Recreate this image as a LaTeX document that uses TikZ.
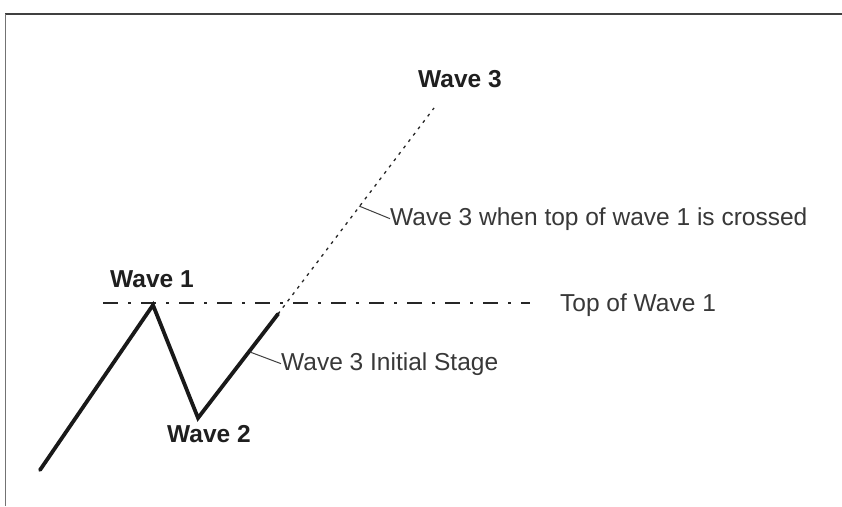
\documentclass[tikz,border=0pt]{standalone}
\usepackage{fontspec}
\setmainfont{Liberation Sans}
\begin{document}
\begin{tikzpicture}[x=1pt,y=-1pt,
  lbl/.style={inner sep=0pt,anchor=base west,font=\fontsize{24.5}{26}\selectfont,text=black!78},
  blbl/.style={inner sep=0pt,anchor=base west,font=\fontsize{24.5}{26}\selectfont\bfseries,text=black!88},
  wave/.style={line width=3.8pt,draw=black!90,line cap=round,line join=miter},
  topline/.style={line width=1.4pt,draw=black!85,dash pattern=on 15pt off 10pt on 3pt off 10pt},
  dotline/.style={line width=1.3pt,draw=black!85,dash pattern=on 3pt off 5pt},
  leader/.style={line width=1pt,draw=black!75}]
\useasboundingbox (0,0) rectangle (842,506);
\fill[white] (0,0) rectangle (842,506);
% frame
\draw[line width=2.6pt,draw=black!75] (5,14) -- (842,14);
\draw[line width=1.4pt,draw=black!55] (5.5,14) -- (5.5,506);
% points
\coordinate (s) at (40,470);
\coordinate (p1) at (153,305);
\coordinate (p2) at (198,418);
\coordinate (p3) at (278,314);
\coordinate (p4) at (434,108);
\coordinate (tl) at (103,303);
\coordinate (tr) at (530,303);
\coordinate (c1) at (359,206);
\coordinate (c2) at (250,352);
% lines
\draw[topline] (tl) -- (tr);
\draw[dotline] (p3) -- (p4);
\draw[wave] (s) -- (p1) -- (p2) -- (p3);
% labels
\node[blbl] (w1) at (110,287) {Wave 1};
\node[blbl] (w2) at (167,442) {Wave 2};
\node[blbl] (w3) at (418,87) {Wave 3};
\node[lbl] (lc) at (390,225) {Wave 3 when top of wave 1 is crossed};
\node[lbl] (lt) at (560,311) {Top of Wave 1};
\node[lbl] (li) at (281,370) {Wave 3 Initial Stage};
% leaders
\draw[leader] (c1) -- (lc.west);
\draw[leader] (c2) -- (li.west);
\end{tikzpicture}
\end{document}
